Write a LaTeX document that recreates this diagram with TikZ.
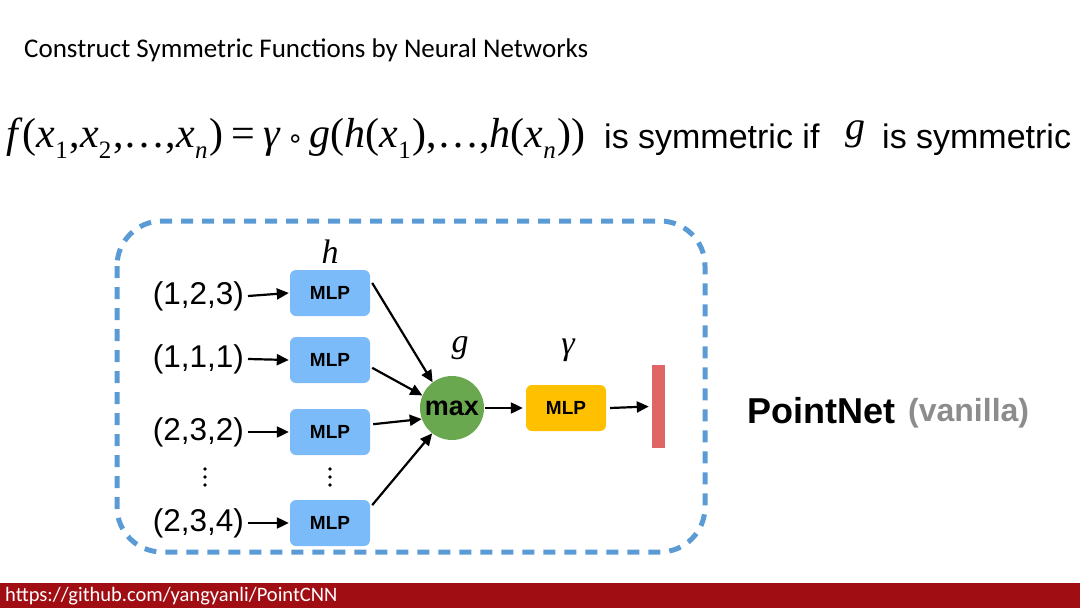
\documentclass[tikz,border=0pt]{standalone}
\usepackage{fontspec}
\usetikzlibrary{arrows.meta,positioning}
\newfontfamily\calibri{Carlito}
\newfontfamily\arial{Liberation Sans}
\newfontfamily\timesfont{Liberation Serif}
\newfontfamily\dejavu{DejaVu Sans}
\definecolor{dashblue}{HTML}{5B9BD5}
\definecolor{mlpblue}{HTML}{7CBBF9}
\definecolor{maxgreen}{HTML}{6AA84F}
\definecolor{gamyellow}{HTML}{FFC000}
\definecolor{outred}{HTML}{E06666}
\definecolor{barred}{HTML}{A00E14}
\newcommand{\fs}[1]{\fontsize{#1}{#1}\selectfont}
\newcommand{\var}[1]{\textit{#1}}
\newcommand{\xsub}[1]{\textit{x}\raisebox{-0.27em}{\fs{25}#1}\hspace{2pt}}

\begin{document}
\begin{tikzpicture}[x=1pt,y=-1pt,
		mlp/.style={fill=#1,rounded corners=6pt,minimum width=80pt,minimum height=46pt,inner sep=0pt,font=\arial\bfseries\fs{19}},
		mlp/.default=mlpblue,
		inp/.style={anchor=east,inner sep=2pt,font=\arial\fs{31.5}},
		lbl/.style={font=\timesfont\itshape\fs{34}},
		pfeil/.style={-{Triangle[length=12pt,width=11pt]},line width=2.2pt}]
		\useasboundingbox (0,0) rectangle (1080,608);

		% Kopf
		\node[anchor=west,inner sep=0pt,font=\calibri\fs{27}] (titel) at (24,50) {Construct Symmetric Functions by Neural Networks};
		\node[anchor=west,inner sep=0pt,font=\timesfont\fs{42}] (formel) at (6,138)
			{\var{f}(\xsub{1},\xsub{2},\ldots,\xsub{\var{n}})\hspace{8pt}=\hspace{8pt}\var{γ}\hspace{6pt}{\dejavu\fs{27}∘}\hspace{6pt}\var{g}(\var{h}(\xsub{1}),\ldots,\var{h}(\xsub{\var{n}}))};
		\node[anchor=west,inner sep=0pt,font=\arial\fs{34}] (text1) at (604,140) {is symmetric if};
		\node[lbl,font=\timesfont\itshape\fs{40},inner sep=0pt] (gsym) at (855,134) {g};
		\node[anchor=west,inner sep=0pt,font=\arial\fs{34}] (text2) at (882,140) {is symmetric};

		% Rahmen
		\draw[dashblue,line width=5pt,dash pattern=on 12pt off 9pt,rounded corners=45pt] (117,221) rectangle (705,552);

		% Eingaben und MLPs
		\node[inp] (in1) at (246,296) {(1,2,3)};
		\node[inp] (in2) at (246,359) {(1,1,1)};
		\node[inp] (in3) at (246,432) {(2,3,2)};
		\node[inp] (in4) at (246,523) {(2,3,4)};
		\node[mlp] (mlp1) at (330,293) {MLP};
		\node[mlp] (mlp2) at (330,360) {MLP};
		\node[mlp] (mlp3) at (330,432) {MLP};
		\node[mlp] (mlp4) at (330,523) {MLP};
		\node[lbl] (h) at (330,252) {h};

		% Punkte
		\foreach \x in {205,330}
			\foreach \y in {469,477,485}
				\fill (\x,\y) circle (1.8pt);

		% max, gamma, Ausgabe
		\node[circle,fill=maxgreen,minimum size=64pt,inner sep=0pt,font=\arial\bfseries\fs{27}] (max) at (452,408) {max};
		\node[lbl] (g) at (460,348) {g};
		\node[mlp=gamyellow] (gam) at (566,408) {MLP};
		\node[lbl] (gamma) at (568,350) {γ};
		\node[fill=outred,minimum width=13pt,minimum height=83pt,inner sep=0pt] (out) at (658.5,406.5) {};

		% Pfeile
		\foreach \i in {1,...,4}
			\draw[pfeil] ([xshift=2pt]in\i.east) -- ([xshift=-1pt]mlp\i.west);
		\draw[pfeil] ([xshift=2pt]mlp1.14) -- (max.127);
		\draw[pfeil] ([xshift=2pt]mlp2.-11) -- (max.157);
		\draw[pfeil] ([xshift=3pt]mlp3.11) -- (max.200);
		\draw[pfeil] ([xshift=2pt]mlp4.24) -- (max.232);
		\draw[pfeil] ([xshift=1pt]max.east) -- ([xshift=-3pt]gam.west);
		\draw[pfeil] ([xshift=4pt]gam.east) -- ([xshift=-3pt]out.west);

		% PointNet
		\node[anchor=west,inner sep=0pt,font=\arial\bfseries\fs{36}] (pn) at (747,411) {PointNet};
		\node[anchor=west,inner sep=0pt,font=\arial\bfseries\fs{32},text=gray!90] (van) at (908,413) {(vanilla)};

		% Fusszeile
		\fill[barred] (0,583) rectangle (1080,608);
		\node[anchor=west,inner sep=0pt,text=white,font=\calibri\fs{20.5}] (url) at (5,596) {https://github.com/yangyanli/PointCNN};
	\end{tikzpicture}
\end{document}
